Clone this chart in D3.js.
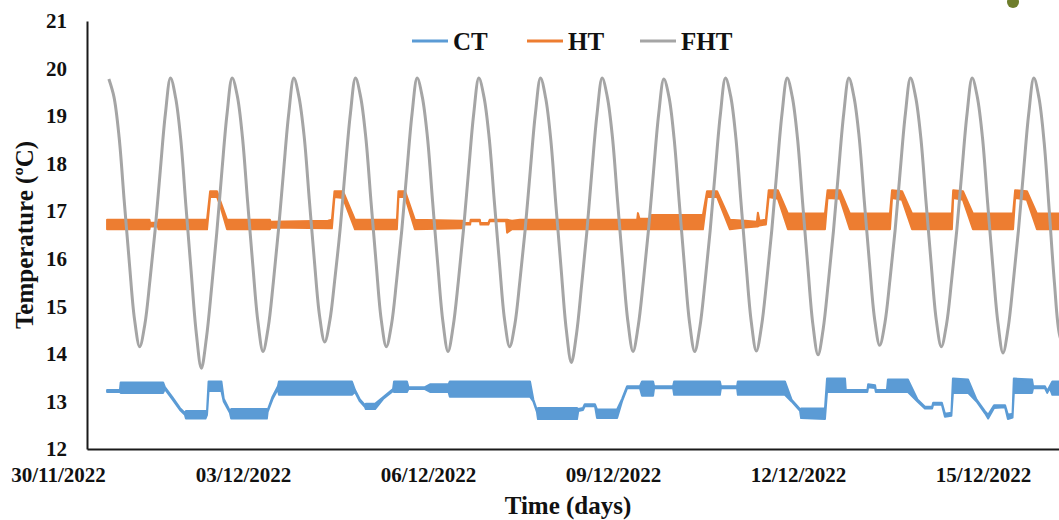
<!DOCTYPE html>
<html><head><meta charset="utf-8">
<script src="https://cdn.jsdelivr.net/npm/d3@7"></script>
<style>
body{margin:0;background:#fff;overflow:hidden}
svg{display:block;font-family:"Liberation Serif","Times New Roman",serif}
</style>
</head><body>
<svg id="chart" width="1059" height="520"></svg>
<script>
// ---------- data ----------
const seriesNames = ["CT", "HT", "FHT"];
const seriesColors = ["#5B9BD5", "#ED7D31", "#A5A5A5"];
const xTickLabels = ["30/11/2022", "03/12/2022", "06/12/2022", "09/12/2022", "12/12/2022", "15/12/2022"];
const yTicks = [12, 13, 14, 15, 16, 17, 18, 19, 20, 21];
const xTitle = "Time (days)";
const yTitle = "Temperature (ºC)";

// FHT: one reading every 2 hours, starting 30/11/2022 20:00 (hours since 30/11 00:00)
const fhtStartHour = 19.8;
const fhtStepHours = 2;
const fhtValues = [
  19.78, 19.40, 18.55, 17.20, 15.90, 14.72, 14.15, 14.62, 15.55, 16.60, 17.85, 19.05,
  19.80, 19.38, 18.50, 17.10, 15.75, 14.45, 13.70, 14.35, 15.40, 16.55, 17.85, 19.05,
  19.80, 19.42, 18.55, 17.20, 15.88, 14.68, 14.05, 14.55, 15.50, 16.60, 17.85, 19.05,
  19.80, 19.40, 18.58, 17.25, 15.95, 14.80, 14.25, 14.70, 15.60, 16.62, 17.88, 19.05,
  19.80, 19.40, 18.55, 17.22, 15.92, 14.72, 14.15, 14.62, 15.55, 16.60, 17.85, 19.05,
  19.80, 19.40, 18.55, 17.20, 15.88, 14.68, 14.05, 14.58, 15.52, 16.60, 17.85, 19.05,
  19.80, 19.40, 18.55, 17.22, 15.92, 14.72, 14.15, 14.62, 15.55, 16.60, 17.85, 19.05,
  19.80, 19.38, 18.50, 17.12, 15.80, 14.52, 13.82, 14.42, 15.45, 16.55, 17.85, 19.05,
  19.80, 19.40, 18.55, 17.20, 15.88, 14.68, 14.05, 14.58, 15.52, 16.60, 17.85, 19.05,
  19.78, 19.40, 18.52, 17.18, 15.86, 14.66, 14.05, 14.56, 15.50, 16.58, 17.84, 19.04,
  19.80, 19.42, 18.56, 17.20, 15.88, 14.68, 14.06, 14.58, 15.52, 16.60, 17.86, 19.06,
  19.80, 19.40, 18.54, 17.18, 15.85, 14.62, 13.98, 14.52, 15.50, 16.58, 17.85, 19.05,
  19.80, 19.40, 18.56, 17.22, 15.92, 14.74, 14.18, 14.64, 15.56, 16.60, 17.86, 19.05,
  19.80, 19.40, 18.55, 17.22, 15.92, 14.72, 14.15, 14.62, 15.55, 16.60, 17.85, 19.05,
  19.80, 19.40, 18.55, 17.18, 15.86, 14.66, 14.02, 14.55, 15.52, 16.60, 17.85, 19.05,
  19.80, 19.38, 18.45, 17.00, 15.50, 14.40, 14.10
];

// HT: [hour since 30/11 00:00, low, high] of the fluctuation band
const htBands = [
  [19.1,16.62,16.82],[35.6,16.62,16.82],[35.8,16.68,16.76],[38.9,16.68,16.76],[39.1,16.62,16.82],
  [58.0,16.62,16.82],[59.2,17.30,17.42],[61.9,17.30,17.42],[63.0,17.14,17.24],[65.8,16.62,16.82],
  [82.5,16.62,16.82],[82.7,16.66,16.78],[105.1,16.64,16.80],
  [106.6,16.64,16.82],[107.6,17.30,17.42],[110.9,17.28,17.42],[115.6,16.62,16.82],
  [131.9,16.62,16.82],[132.5,17.30,17.42],[135.1,17.30,17.42],[138.9,16.62,16.82],
  [157.4,16.64,16.80],[157.7,16.72,16.75],[160.4,16.72,16.75],[160.6,16.79,16.82],[164.2,16.79,16.82],
  [164.4,16.72,16.75],[167.5,16.72,16.75],[168.0,16.79,16.82],[174.4,16.79,16.82],[174.8,16.55,16.82],
  [176.7,16.62,16.80],[179.8,16.62,16.82],
  [225.4,16.62,16.82],[225.7,16.62,16.96],[226.3,16.62,16.84],[230.4,16.62,16.84],[231.0,16.62,16.92],[251.0,16.62,16.92],
  [252.6,17.30,17.42],[256.5,17.30,17.42],[261.5,16.62,16.82],
  [267.4,16.66,16.80],[272.0,16.68,16.78],[272.4,16.68,16.97],[273.0,16.70,16.80],[275.5,16.72,16.82],
  [276.6,17.30,17.44],[280.2,17.26,17.44],[284.1,16.62,16.95],[298.5,16.62,16.95],
  [299.5,17.28,17.44],[304.4,17.26,17.44],[308.2,16.62,16.95],[323.8,16.62,16.95],
  [324.6,17.28,17.44],[328.5,17.24,17.42],[332.4,16.62,16.95],[347.9,16.62,16.95],
  [348.4,17.28,17.44],[352.2,17.24,17.42],[356.1,16.62,16.95],[371.7,16.62,16.95],
  [372.5,17.28,17.44],[377.1,17.24,17.42],[381.0,16.62,16.95],[395.0,16.62,16.95]
];

// CT: [hour since 30/11 00:00, low, high] of the fluctuation band
const ctBands = [
  [19.1,13.20,13.24],[24.1,13.20,13.24],[24.4,13.18,13.40],[40.9,13.18,13.40],
  [41.6,13.26,13.30],[44.5,13.05,13.09],[47.5,12.82,12.86],[49.4,12.72,12.76],[49.8,12.64,12.80],[57.4,12.64,12.80],
  [58.0,12.72,12.80],[58.6,13.22,13.42],[63.6,13.22,13.42],[64.5,13.00,13.06],[66.9,12.76,12.80],[67.4,12.64,12.84],[81.3,12.64,12.84],
  [81.6,12.78,12.82],[83.5,13.05,13.10],[85.6,13.26,13.32],[86.0,13.14,13.42],[114.4,13.14,13.42],
  [115.6,13.20,13.24],[117.5,13.00,13.04],[119.5,12.88,12.92],[119.8,12.84,12.95],[123.4,12.84,12.95],[126.5,13.05,13.09],
  [130.4,13.22,13.26],[130.8,13.20,13.42],[135.8,13.20,13.42],[136.4,13.26,13.30],[142.8,13.26,13.30],
  [144.8,13.20,13.36],[152.0,13.20,13.36],[152.5,13.10,13.42],[183.7,13.10,13.42],
  [185.0,13.00,13.04],[186.4,12.78,12.82],[186.8,12.63,12.86],[202.0,12.63,12.86],[202.5,12.80,12.84],[204.3,12.82,12.86],
  [205.0,12.90,12.94],[209.0,12.90,12.94],[209.8,12.65,12.83],[217.6,12.65,12.83],
  [219.5,13.00,13.05],[221.5,13.28,13.32],[226.5,13.28,13.32],[227.3,13.12,13.42],[231.6,13.12,13.42],[232.0,13.28,13.32],
  [239.4,13.28,13.32],[239.8,13.14,13.42],[257.6,13.14,13.42],[258.0,13.28,13.32],[264.3,13.28,13.32],[264.6,13.14,13.42],
  [282.9,13.14,13.42],[285.5,13.00,13.04],[288.8,12.80,12.84],[289.2,12.65,12.85],[298.5,12.63,12.85],
  [299.3,13.20,13.48],[306.3,13.20,13.48],[306.6,13.20,13.24],[315.0,13.20,13.24],[315.3,13.30,13.36],[318.0,13.28,13.34],
  [318.3,13.20,13.24],[322.6,13.20,13.24],[323.0,13.20,13.46],[330.8,13.20,13.46],
  [334.5,13.00,13.04],[337.4,12.85,12.89],[340.2,12.85,12.89],[340.6,12.93,12.97],[344.0,12.93,12.97],[345.2,12.68,12.74],[347.7,12.70,12.76],
  [348.3,13.18,13.48],[354.2,13.18,13.46],[357.5,13.00,13.04],[360.8,12.75,12.79],[362.0,12.64,12.72],[364.3,12.86,12.92],
  [368.6,12.88,12.92],[369.7,12.63,12.72],[371.5,12.66,12.74],
  [372.0,13.18,13.48],[379.1,13.18,13.46],[379.5,13.28,13.32],[384.1,13.28,13.32],[385.0,13.18,13.22],[386.0,13.28,13.32],
  [387.0,13.14,13.42],[395.0,13.14,13.42]
];

// ---------- chart ----------
const base = Date.UTC(2022, 10, 30);
const hourToDate = h => new Date(base + h * 3600e3);
const parseLabel = s => { const [d, m, y] = s.split("/").map(Number); return new Date(Date.UTC(y, m - 1, d)); };

const svg = d3.select("#chart");
const x = d3.scaleUtc().domain([hourToDate(11.29), hourToDate(405.54)]).range([87, 1100]);
const y = d3.scaleLinear().domain([12, 21]).range([449, 21]);

const fhtData = fhtValues.map((v, i) => [fhtStartHour + i * fhtStepHours, v]);

const bandArea = d3.area()
  .x(d => x(hourToDate(d[0])))
  .y0(d => y(d[1]))
  .y1(d => y(d[2]));

svg.append("path").datum(ctBands).attr("d", bandArea)
  .attr("fill", seriesColors[0]).attr("stroke", seriesColors[0])
  .attr("stroke-width", 2).attr("stroke-linejoin", "round");
svg.append("path").datum(htBands).attr("d", bandArea)
  .attr("fill", seriesColors[1]).attr("stroke", seriesColors[1])
  .attr("stroke-width", 2).attr("stroke-linejoin", "round");

const line = d3.line()
  .x(d => x(hourToDate(d[0])))
  .y(d => y(d[1]))
  .curve(d3.curveCatmullRom.alpha(0.5));
svg.append("path").datum(fhtData).attr("d", line)
  .attr("fill", "none").attr("stroke", seriesColors[2])
  .attr("stroke-width", 3).attr("stroke-linejoin", "round");

// axes
const yAxis = svg.append("g").attr("transform", "translate(87,0)")
  .call(d3.axisLeft(y).tickValues(yTicks).tickSize(0).tickPadding(20).tickFormat(d3.format("d")));
const xAxis = svg.append("g").attr("transform", "translate(0,449)")
  .call(d3.axisBottom(x).tickValues(xTickLabels.map(parseLabel)).tickSize(0).tickPadding(18)
    .tickFormat((d, i) => xTickLabels[i]));
[yAxis, xAxis].forEach(g => {
  g.select(".domain").attr("stroke", "#1a1a1a").attr("stroke-width", 2);
  g.selectAll("text").attr("font-family", "Liberation Serif, Times New Roman, serif")
    .attr("font-size", 21).attr("font-weight", "bold").attr("fill", "#111");
});

// titles
svg.append("text").attr("x", 568).attr("y", 514).attr("text-anchor", "middle")
  .attr("font-size", 25).attr("font-weight", "bold").attr("fill", "#111").text(xTitle);
svg.append("text").attr("transform", "translate(33,235) rotate(-90)").attr("text-anchor", "middle")
  .attr("font-size", 25).attr("font-weight", "bold").attr("fill", "#111").text(yTitle);

// legend
const legendX = [412, 527, 640];
seriesNames.forEach((name, i) => {
  const g = svg.append("g").attr("transform", `translate(${legendX[i]},41)`);
  g.append("line").attr("x1", 0).attr("x2", 36).attr("y1", 0).attr("y2", 0)
    .attr("stroke", seriesColors[i]).attr("stroke-width", 3);
  g.append("text").attr("x", 41).attr("y", 9).attr("font-size", 25).attr("font-weight", "bold")
    .attr("fill", "#111").text(name);
});

// cropped decoration at top right of the source image
svg.append("circle").attr("cx", 1013).attr("cy", 2).attr("r", 6).attr("fill", "#6e7d2c");
</script>
</body></html>
